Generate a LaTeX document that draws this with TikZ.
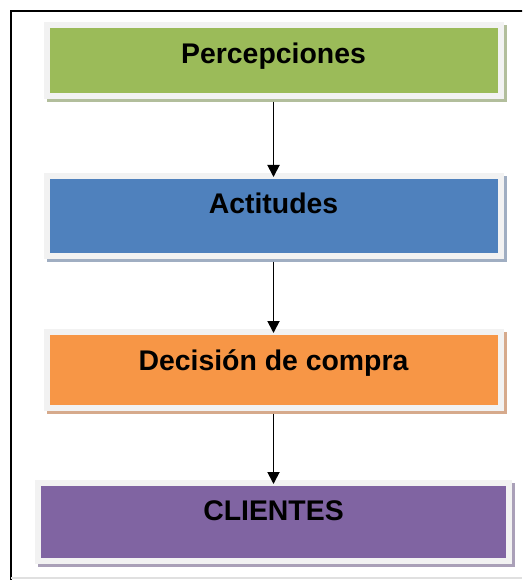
\documentclass[tikz,border=0pt]{standalone}
\usepackage{fontspec}
\setmainfont{Liberation Sans}
\usetikzlibrary{arrows.meta,shadows}
\definecolor{verde}{RGB}{155,187,89}
\definecolor{verdeS}{RGB}{178,190,156}
\definecolor{azul}{RGB}{79,129,189}
\definecolor{azulS}{RGB}{160,174,194}
\definecolor{naranja}{RGB}{247,150,70}
\definecolor{naranjaS}{RGB}{214,170,140}
\definecolor{morado}{RGB}{128,100,162}
\definecolor{moradoS}{RGB}{170,160,184}
\definecolor{borde}{RGB}{242,242,242}
\tikzstyle{caja}=[rectangle,draw=borde,line width=4.5pt,text height=15.25pt,font=\fontsize{21.3}{25}\selectfont\bfseries]
\tikzstyle{flecha} = [draw,line width=1.4pt,-{Triangle[width=9pt,length=9pt]},shorten <=2pt,shorten >=-3pt]

\begin{document}
\begin{tikzpicture}[x=0.75pt,y=-0.75pt]
    \clip (0,0) rectangle (522,580);
    % marco
    \draw[line width=1.2pt] (11,590) |- (530,11);
    \draw[black!12,line width=1pt] (11,578) -- (522,578);

    % cajas
    \foreach \pos/\name/\col/\ancho/\alto/\prof/\txt in {
        {(273.5,60.5)/percep/verde/340.5pt/53.25pt/11.25pt/Percepciones},
        {(273.5,216)/actit/azul/340.5pt/60pt/19.5pt/Actitudes},
        {(273.5,370)/decision/naranja/340.5pt/57pt/15pt/Decisión de compra},
        {(273.5,522)/clientes/morado/353.25pt/58.5pt/18pt/CLIENTES}}
        \node[caja,fill=\col,minimum width=\ancho,minimum height=\alto,text depth=\prof,
              drop shadow={shadow xshift=2.25pt,shadow yshift=-2.25pt,opacity=1,fill=\col S,draw=\col S,line width=4.5pt}]
            (\name) at \pos {\txt};

    % flechas
    \foreach \source/\dest in {percep/actit, actit/decision, decision/clientes}
        \path[flecha] (\source.south) -- (\dest.north);

\end{tikzpicture}
\end{document}
